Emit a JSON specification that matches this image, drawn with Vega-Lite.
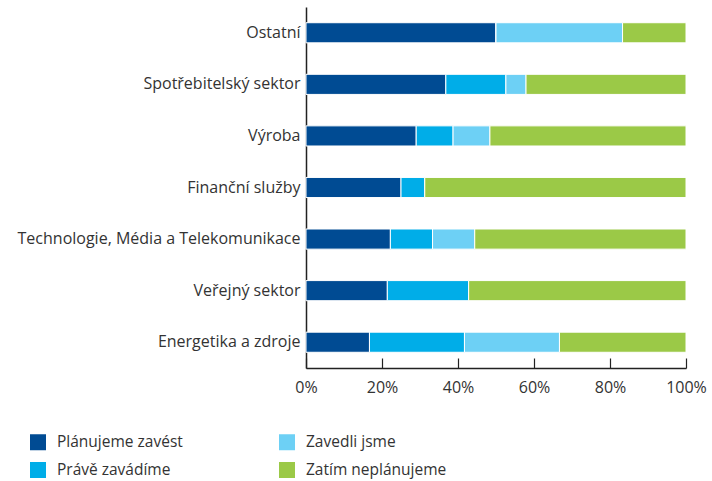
{
  "$schema": "https://vega.github.io/schema/vega-lite/v6.json",
  "autosize": {"type": "none"},
  "width": 380,
  "height": 361,
  "padding": {"left": 306, "top": 7, "right": 26, "bottom": 113},
  "config": {
    "font": "Open Sans",
    "view": {"stroke": null},
    "axis": {"labelColor": "#333333", "labelFont": "Open Sans"},
    "legend": {"labelFont": "Open Sans"}
  },
  "data": {
    "values": [
      {"sector": "Ostatní", "status": "Plánujeme zavést", "k": 1, "value": 50.0},
      {"sector": "Ostatní", "status": "Právě zavádíme", "k": 2, "value": 0},
      {"sector": "Ostatní", "status": "Zavedli jsme", "k": 3, "value": 33.3},
      {"sector": "Ostatní", "status": "Zatím neplánujeme", "k": 4, "value": 16.7},
      {"sector": "Spotřebitelský sektor", "status": "Plánujeme zavést", "k": 1, "value": 36.8},
      {"sector": "Spotřebitelský sektor", "status": "Právě zavádíme", "k": 2, "value": 15.8},
      {"sector": "Spotřebitelský sektor", "status": "Zavedli jsme", "k": 3, "value": 5.3},
      {"sector": "Spotřebitelský sektor", "status": "Zatím neplánujeme", "k": 4, "value": 42.1},
      {"sector": "Výroba", "status": "Plánujeme zavést", "k": 1, "value": 29.0},
      {"sector": "Výroba", "status": "Právě zavádíme", "k": 2, "value": 9.7},
      {"sector": "Výroba", "status": "Zavedli jsme", "k": 3, "value": 9.7},
      {"sector": "Výroba", "status": "Zatím neplánujeme", "k": 4, "value": 51.6},
      {"sector": "Finanční služby", "status": "Plánujeme zavést", "k": 1, "value": 25.0},
      {"sector": "Finanční služby", "status": "Právě zavádíme", "k": 2, "value": 6.25},
      {"sector": "Finanční služby", "status": "Zavedli jsme", "k": 3, "value": 0},
      {"sector": "Finanční služby", "status": "Zatím neplánujeme", "k": 4, "value": 68.75},
      {"sector": "Technologie, Média a Telekomunikace", "status": "Plánujeme zavést", "k": 1, "value": 22.2},
      {"sector": "Technologie, Média a Telekomunikace", "status": "Právě zavádíme", "k": 2, "value": 11.1},
      {"sector": "Technologie, Média a Telekomunikace", "status": "Zavedli jsme", "k": 3, "value": 11.1},
      {"sector": "Technologie, Média a Telekomunikace", "status": "Zatím neplánujeme", "k": 4, "value": 55.6},
      {"sector": "Veřejný sektor", "status": "Plánujeme zavést", "k": 1, "value": 21.4},
      {"sector": "Veřejný sektor", "status": "Právě zavádíme", "k": 2, "value": 21.4},
      {"sector": "Veřejný sektor", "status": "Zavedli jsme", "k": 3, "value": 0},
      {"sector": "Veřejný sektor", "status": "Zatím neplánujeme", "k": 4, "value": 57.2},
      {"sector": "Energetika a zdroje", "status": "Plánujeme zavést", "k": 1, "value": 16.7},
      {"sector": "Energetika a zdroje", "status": "Právě zavádíme", "k": 2, "value": 25.0},
      {"sector": "Energetika a zdroje", "status": "Zavedli jsme", "k": 3, "value": 25.0},
      {"sector": "Energetika a zdroje", "status": "Zatím neplánujeme", "k": 4, "value": 33.3}
    ]
  },
  "mark": {"type": "bar", "stroke": "white", "strokeWidth": 1},
  "encoding": {
    "y": {
      "field": "sector",
      "type": "nominal",
      "sort": null,
      "scale": {"paddingInner": 0.61, "paddingOuter": 0.305},
      "axis": {
        "title": null,
        "ticks": false,
        "labelFontSize": 16,
        "labelLimit": 320,
        "labelPadding": 6,
        "domainColor": "#222222",
        "domainWidth": 1.5
      }
    },
    "x": {
      "field": "value",
      "type": "quantitative",
      "stack": "normalize",
      "scale": {"domain": [0, 1]},
      "axis": {
        "title": null,
        "format": ".0%",
        "values": [0, 0.2, 0.4, 0.6, 0.8, 1],
        "grid": false,
        "tickSize": -10,
        "tickColor": "#222222",
        "tickWidth": 1.2,
        "domainColor": "#222222",
        "domainWidth": 1.5,
        "labelFontSize": 16,
        "labelPadding": 21,
        "labelBaseline": "top",
        "labelFlush": false
      }
    },
    "color": {
      "field": "status",
      "type": "nominal",
      "scale": {
        "domain": ["Plánujeme zavést", "Právě zavádíme", "Zavedli jsme", "Zatím neplánujeme"],
        "range": ["#004B93", "#00ADE8", "#6DD0F5", "#9BC947"]
      },
      "legend": {
        "title": null,
        "orient": "none",
        "legendX": -276,
        "legendY": 427,
        "columns": 2,
        "columnPadding": 96,
        "rowPadding": 11,
        "symbolType": "square",
        "symbolSize": 256,
        "symbolStrokeWidth": 0,
        "labelFontSize": 15.5,
        "labelColor": "#333333",
        "labelOffset": 11
      }
    },
    "order": {"field": "k", "type": "quantitative"}
  }
}
